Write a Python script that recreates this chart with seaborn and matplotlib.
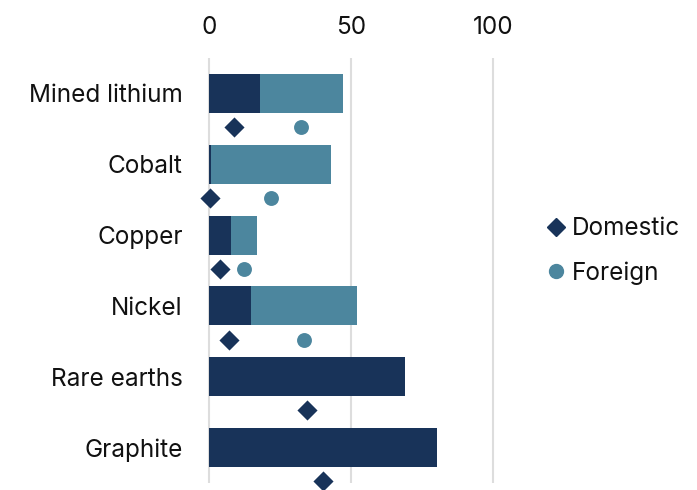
import numpy as np
import pandas as pd
import seaborn as sns
import matplotlib.pyplot as plt
from matplotlib.lines import Line2D

# values
minerals = ['Mined lithium', 'Cobalt', 'Copper', 'Nickel', 'Rare earths', 'Graphite']
domestic_bar = [18, 0.6, 7.7, 14.8, 69, 80.3]
foreign_bar = [29, 42.4, 9.2, 37.2, 0, 0]
domestic_pt = [8.8, 0.3, 3.8, 6.9, 34.4, 40]
foreign_pt = [32.5, 21.8, 12.3, 33.5, np.nan, np.nan]

navy = '#183359'
teal = '#4c869e'

sns.set_theme(style='white')
plt.rcParams['font.family'] = ['Inter', 'DejaVu Sans']

df = pd.DataFrame({'mineral': minerals,
                   'domestic': domestic_bar,
                   'total': np.array(domestic_bar) + np.array(foreign_bar)})
pts = pd.DataFrame({'pos': np.arange(len(minerals)) + 0.475,
                    'domestic': domestic_pt,
                    'foreign': foreign_pt})

fig = plt.figure(figsize=(6.97, 4.9), dpi=100)
ax = fig.add_axes([206.2 / 697, 7 / 490, 315.2 / 697, 425 / 490])

sns.barplot(data=df, x='total', y='mineral', color=teal, saturation=1,
            width=0.55, linewidth=0, ax=ax)
sns.barplot(data=df, x='domestic', y='mineral', color=navy, saturation=1,
            width=0.55, linewidth=0, ax=ax)
sns.scatterplot(data=pts, x='domestic', y='pos', marker='D', s=105, color=navy,
                linewidth=0, ax=ax, clip_on=False, zorder=3)
sns.scatterplot(data=pts, x='foreign', y='pos', marker='o', s=115, color=teal,
                linewidth=0, ax=ax, clip_on=False, zorder=3)

ax.set_xlim(-1, 110)
ax.set_ylim(5.5, -0.5)
ax.set_xticks([0, 50, 100])
ax.set_yticks(range(len(minerals)))
ax.set_yticklabels(minerals)
ax.xaxis.tick_top()
ax.tick_params(axis='x', length=0, labelsize=17.5, pad=14, colors='#111111')
ax.tick_params(axis='y', length=0, labelsize=17.5, pad=17, colors='#111111')
ax.set_xlabel('')
ax.set_ylabel('')
ax.grid(axis='x', color='#dddddd', linewidth=1.5)
ax.set_axisbelow(True)
sns.despine(ax=ax, left=True, bottom=True, top=True, right=True)

handles = [Line2D([], [], marker='D', color=navy, linestyle='', markersize=9.5),
           Line2D([], [], marker='o', color=teal, linestyle='', markersize=10)]
fig.legend(handles, ['Domestic', 'Foreign'], loc='center left',
           bbox_to_anchor=(520 / 697, 1 - 251 / 490), frameon=False,
           fontsize=17.5, handletextpad=0.05, handlelength=1.2, labelspacing=0.85,
           labelcolor='#111111')

fig.savefig('out.png', dpi=100)
